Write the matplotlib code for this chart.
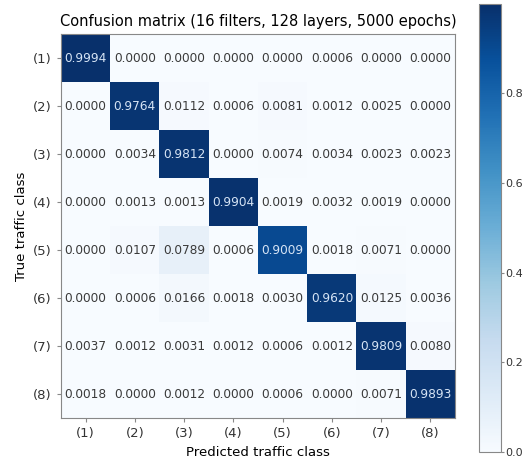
import numpy as np
import matplotlib.pyplot as plt

classes = ['(1)', '(2)', '(3)', '(4)', '(5)', '(6)', '(7)', '(8)']

# normalised confusion matrix, rows = true class, columns = predicted class
row1 = [0.9994, 0.0000, 0.0000, 0.0000, 0.0000, 0.0006, 0.0000, 0.0000]
row2 = [0.0000, 0.9764, 0.0112, 0.0006, 0.0081, 0.0012, 0.0025, 0.0000]
row3 = [0.0000, 0.0034, 0.9812, 0.0000, 0.0074, 0.0034, 0.0023, 0.0023]
row4 = [0.0000, 0.0013, 0.0013, 0.9904, 0.0019, 0.0032, 0.0019, 0.0000]
row5 = [0.0000, 0.0107, 0.0789, 0.0006, 0.9009, 0.0018, 0.0071, 0.0000]
row6 = [0.0000, 0.0006, 0.0166, 0.0018, 0.0030, 0.9620, 0.0125, 0.0036]
row7 = [0.0037, 0.0012, 0.0031, 0.0012, 0.0006, 0.0012, 0.9809, 0.0080]
row8 = [0.0018, 0.0000, 0.0012, 0.0000, 0.0006, 0.0000, 0.0071, 0.9893]

cm = np.array([row1, row2, row3, row4, row5, row6, row7, row8])

fig = plt.figure(figsize=(5.32, 4.59), dpi=100)
ax = fig.add_axes([61 / 532, 1 - 418 / 459, 394 / 532, 384 / 459])
cax = fig.add_axes([479 / 532, 1 - 452 / 459, 22 / 532, 448 / 459])

im = ax.imshow(cm, cmap='Blues', vmin=0, vmax=cm.max(), aspect='auto')
ax.set_title('Confusion matrix (16 filters, 128 layers, 5000 epochs)', fontsize=10.5)

ticks = np.arange(len(classes))
ax.set_xticks(ticks)
ax.set_yticks(ticks)
ax.set_xticklabels(classes, fontsize=9.5)
ax.set_yticklabels(classes, fontsize=9.5)
ax.set_xlabel('Predicted traffic class', fontsize=9.5)
ax.set_ylabel('True traffic class', fontsize=9.5)
for s in ax.spines.values():
    s.set_color('#888888')
ax.tick_params(colors='#888888', labelcolor='#333333', length=3)

thresh = cm.max() / 2
for i in range(cm.shape[0]):
    for j in range(cm.shape[1]):
        ax.text(j, i, '%.4f' % cm[i, j], ha='center', va='center', fontsize=8.7,
                color='#d6e4f5' if cm[i, j] > thresh else '#3a3a3a')

cb = fig.colorbar(im, cax=cax, ticks=[0.0, 0.2, 0.4, 0.6, 0.8])
cb.ax.tick_params(labelsize=8, colors='#888888', labelcolor='#333333',
                  length=2, pad=1)
cb.outline.set_edgecolor('#888888')

plt.savefig('out.png', dpi=100)
